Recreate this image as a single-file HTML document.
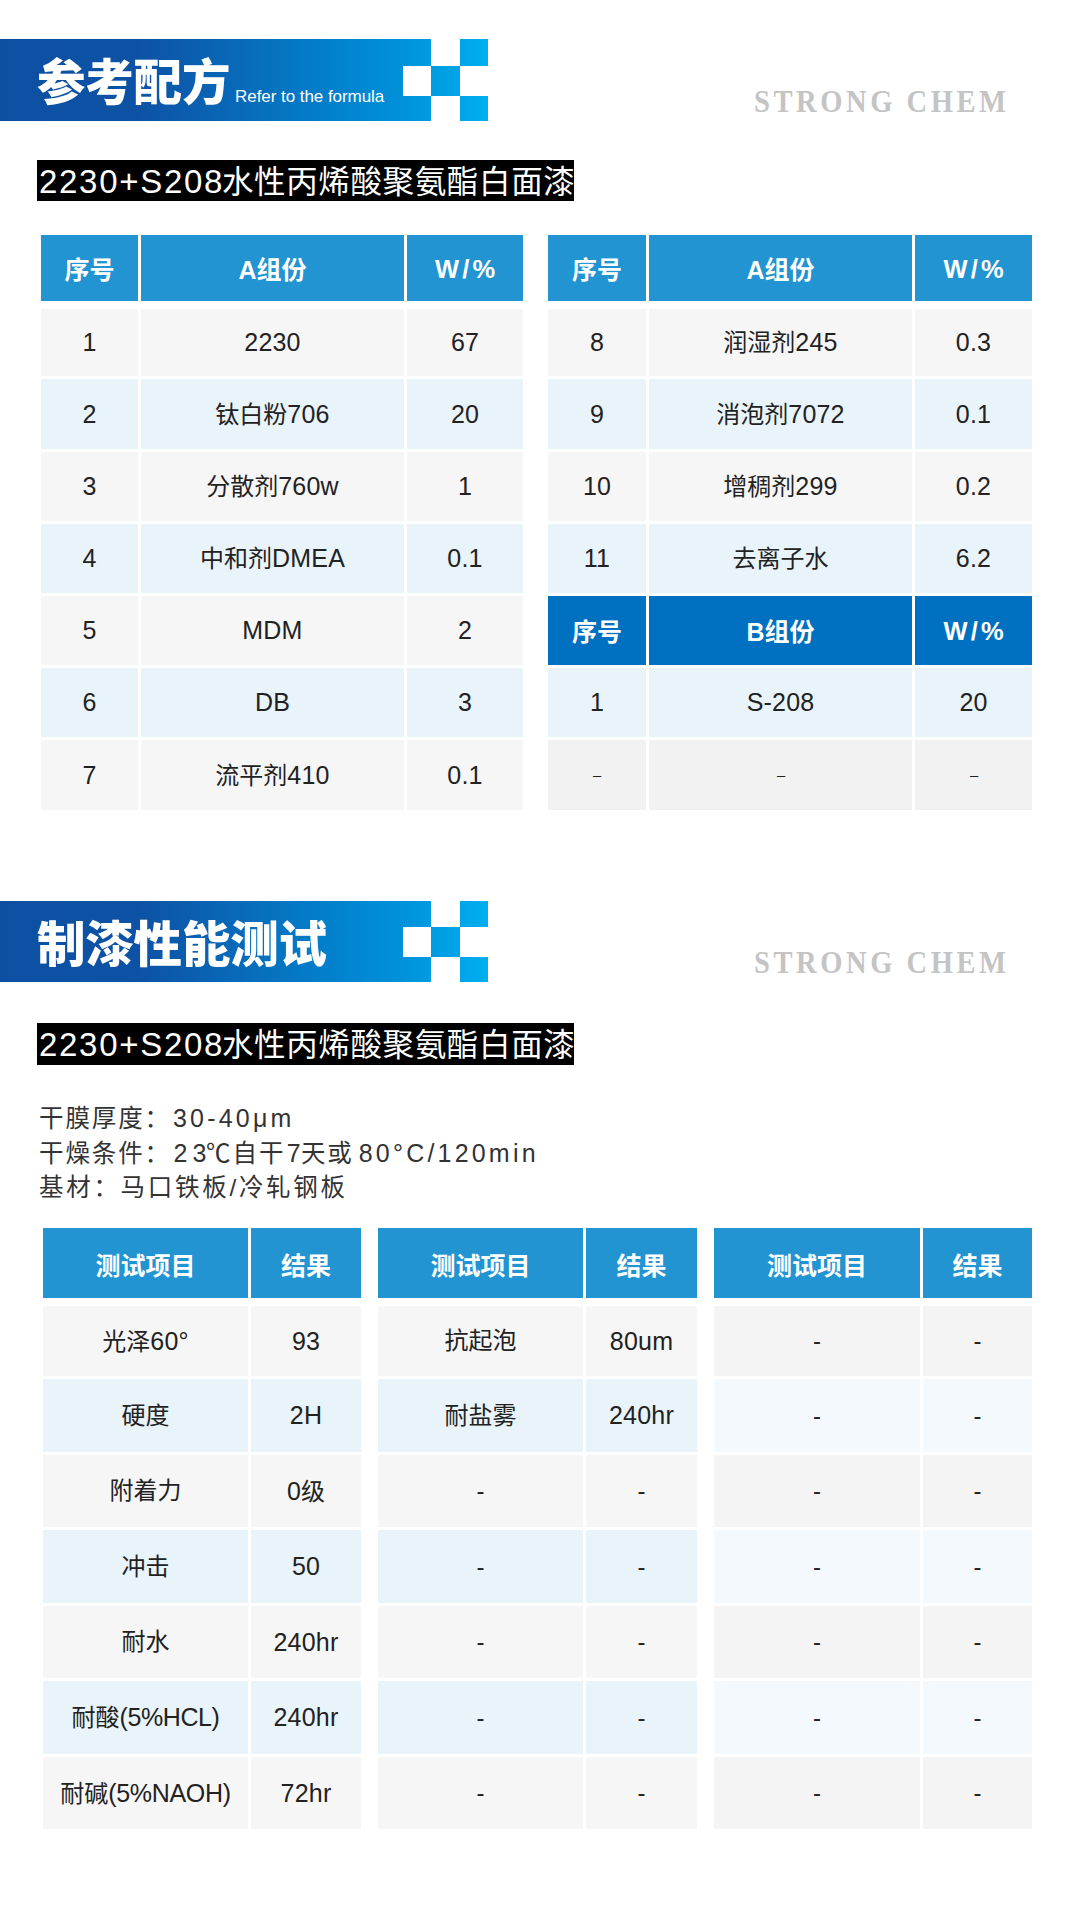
<!DOCTYPE html>
<html lang="zh-CN">
<head>
<meta charset="utf-8">
<title>参考配方</title>
<style>
html,body{margin:0;padding:0;background:#fff}
body{width:1080px;height:1920px;position:relative;overflow:hidden;font-family:"Liberation Sans","Noto Sans CJK SC",sans-serif;color:#222}
.banner{position:absolute;left:0;width:488px;background:linear-gradient(90deg,#0d50a2 0,#0d52a5 140px,#0091da 400px,#00aeef 488px)}
.banner .sq{position:absolute}
.banner .w{background:#fff}
.banner h2{position:absolute;left:37px;top:20px;margin:0;font-weight:900;font-size:48.5px;line-height:1;color:#fff;white-space:nowrap;letter-spacing:-0.2px}
.banner .en{position:absolute;left:235px;color:#fff;font-size:17px;letter-spacing:-0.05px;white-space:nowrap;line-height:1}
.brand{position:absolute;left:754px;font-family:"Liberation Serif",serif;font-weight:bold;font-size:32.5px;letter-spacing:4px;color:#c4c4c4;line-height:1;white-space:nowrap;transform:scaleX(.88);transform-origin:0 0}
.sub{position:absolute;left:37px;width:537px;height:41px;background:#000;color:#fff;font-size:31.5px;line-height:43px;letter-spacing:0.64px;white-space:nowrap;overflow:hidden;box-sizing:border-box;padding-left:2px}
.sub .l{font-size:33px;letter-spacing:1.7px;margin-right:-2.2px}
.info{position:absolute;left:39px;top:1101px;color:#333;white-space:nowrap}
.info p{margin:0;font-size:24.5px;line-height:34.5px;letter-spacing:1.9px;height:34.5px}
.info p.l3{letter-spacing:2.7px;margin-top:1px}
.info .n{font-size:25px;letter-spacing:3.2px}
table.t{position:absolute;border-collapse:separate;border-spacing:3px;table-layout:fixed;font-size:24px;text-align:center}
table.t th,table.t td{padding:0;font-weight:normal;line-height:1;vertical-align:middle;overflow:hidden;white-space:nowrap}
table.t thead th{background:#2194d1;background-clip:padding-box;color:#fff;font-weight:bold;border-bottom:5px solid #fff;font-size:25px;padding-top:5px}
tr.g td{background:#f6f6f6}
tr.b td{background:#e9f3fa}
tr.g2 td{background:#f2f2f2}
tr.h2 th{background:#0070c0;color:#fff;font-weight:bold;font-size:25px;padding-top:3px}
th .w{letter-spacing:3.2px;margin-right:-3.2px;font-size:25.5px;position:relative;top:-0.5px}
table.tc thead th,table.td thead th,table.te thead th{padding-top:7px}
table.te tr.b td{background:#f4f9fd}
table.te tr.g td{background:#f4f4f4}
td .e{font-size:25px;letter-spacing:.2px}
td i{font-style:normal;font-size:16px;display:inline-block;transform:translate(0.5px,-1.5px) scale(2.1,.75)}
</style>
</head>
<body>
<div class="banner" style="top:39px;height:82px">
<div class="sq w" style="left:403px;top:27px;width:28px;height:30px"></div>
<div class="sq w" style="left:431px;top:0;width:28.5px;height:27px"></div>
<div class="sq w" style="left:431px;top:57px;width:28.5px;height:25px"></div>
<div class="sq w" style="left:459.5px;top:27px;width:28.5px;height:30px"></div>
<h2>参考配方</h2><span class="en" style="top:49px">Refer to the formula</span>
</div>
<div class="brand" style="top:85px">STRONG CHEM</div>
<div class="sub" style="top:160px"><span class="l">2230+S208</span>水性丙烯酸聚氨酯白面漆</div>
<table class="t ta" style="left:38px;top:232px">
<colgroup><col style="width:97px"><col style="width:263px"><col style="width:116px"></colgroup>
<thead><tr style="height:71px"><th>序号</th><th>A组份</th><th><span class="w">W/%</span></th></tr></thead>
<tbody>
<tr class="g" style="height:67px"><td><span class="e">1</span></td><td><span class="e">2230</span></td><td><span class="e">67</span></td></tr>
<tr class="b" style="height:70px"><td><span class="e">2</span></td><td>钛白粉<span class="e">706</span></td><td><span class="e">20</span></td></tr>
<tr class="g" style="height:69px"><td><span class="e">3</span></td><td>分散剂<span class="e">760w</span></td><td><span class="e">1</span></td></tr>
<tr class="b" style="height:69px"><td><span class="e">4</span></td><td>中和剂<span class="e">DMEA</span></td><td><span class="e">0.1</span></td></tr>
<tr class="g" style="height:69px"><td><span class="e">5</span></td><td><span class="e">MDM</span></td><td><span class="e">2</span></td></tr>
<tr class="b" style="height:69px"><td><span class="e">6</span></td><td><span class="e">DB</span></td><td><span class="e">3</span></td></tr>
<tr class="g" style="height:70px"><td><span class="e">7</span></td><td>流平剂<span class="e">410</span></td><td><span class="e">0.1</span></td></tr>
</tbody></table>
<table class="t tb" style="left:545px;top:232px">
<colgroup><col style="width:98px"><col style="width:263px"><col style="width:117px"></colgroup>
<thead><tr style="height:71px"><th>序号</th><th>A组份</th><th><span class="w">W/%</span></th></tr></thead>
<tbody>
<tr class="g" style="height:67px"><td><span class="e">8</span></td><td>润湿剂<span class="e">245</span></td><td><span class="e">0.3</span></td></tr>
<tr class="b" style="height:70px"><td><span class="e">9</span></td><td>消泡剂<span class="e">7072</span></td><td><span class="e">0.1</span></td></tr>
<tr class="g" style="height:69px"><td><span class="e">10</span></td><td>增稠剂<span class="e">299</span></td><td><span class="e">0.2</span></td></tr>
<tr class="b" style="height:69px"><td><span class="e">11</span></td><td>去离子水</td><td><span class="e">6.2</span></td></tr>
<tr class="h2" style="height:69px"><th>序号</th><th>B组份</th><th><span class="w">W/%</span></th></tr>
<tr class="b" style="height:69px"><td><span class="e">1</span></td><td><span class="e">S-208</span></td><td><span class="e">20</span></td></tr>
<tr class="g2" style="height:70px"><td><i>-</i></td><td><i>-</i></td><td><i>-</i></td></tr>
</tbody></table>
<div class="banner" style="top:901px;height:81px">
<div class="sq w" style="left:403px;top:26px;width:28px;height:30px"></div>
<div class="sq w" style="left:431px;top:0;width:28.5px;height:26px"></div>
<div class="sq w" style="left:431px;top:56px;width:28.5px;height:25px"></div>
<div class="sq w" style="left:459.5px;top:26px;width:28.5px;height:30px"></div>
<h2>制漆性能测试</h2>
</div>
<div class="brand" style="top:946px">STRONG CHEM</div>
<div class="sub" style="top:1023px;height:42px"><span class="l">2230+S208</span>水性丙烯酸聚氨酯白面漆</div>
<div class="info">
<p class="l1">干膜厚度：<span class="n" style="margin-left:2px">30-40μm</span></p>
<p class="l2">干燥条件：<span class="n" style="letter-spacing:5.2px;margin-left:2.4px;margin-right:-5.5px">23</span>℃自干<span class="n" style="margin-left:1.5px;margin-right:-3px">7</span>天或<span class="n" style="margin-left:5px">80°C/120min</span></p>
<p class="l3">基材：马口铁板/冷轧钢板</p>
</div>
<table class="t tc" style="left:40px;top:1225px">
<colgroup><col style="width:205px"><col style="width:110px"></colgroup>
<thead><tr style="height:75px"><th>测试项目</th><th>结果</th></tr></thead>
<tbody>
<tr class="g" style="height:70px"><td>光泽<span class="e">60°</span></td><td><span class="e">93</span></td></tr>
<tr class="b" style="height:73px"><td>硬度</td><td><span class="e">2H</span></td></tr>
<tr class="g" style="height:72px"><td>附着力</td><td><span class="e">0</span>级</td></tr>
<tr class="b" style="height:73px"><td>冲击</td><td><span class="e">50</span></td></tr>
<tr class="g" style="height:72px"><td>耐水</td><td><span class="e">240hr</span></td></tr>
<tr class="b" style="height:73px"><td>耐酸<span class="e" style="letter-spacing:-.4px">(5%HCL)</span></td><td><span class="e">240hr</span></td></tr>
<tr class="g" style="height:72px"><td>耐碱<span class="e" style="letter-spacing:-.3px">(5%NAOH)</span></td><td><span class="e">72hr</span></td></tr>
</tbody></table>
<table class="t td" style="left:375px;top:1225px">
<colgroup><col style="width:205px"><col style="width:111px"></colgroup>
<thead><tr style="height:75px"><th>测试项目</th><th>结果</th></tr></thead>
<tbody>
<tr class="g" style="height:70px"><td>抗起泡</td><td><span class="e">80um</span></td></tr>
<tr class="b" style="height:73px"><td>耐盐雾</td><td><span class="e">240hr</span></td></tr>
<tr class="g" style="height:72px"><td>-</td><td>-</td></tr>
<tr class="b" style="height:73px"><td>-</td><td>-</td></tr>
<tr class="g" style="height:72px"><td>-</td><td>-</td></tr>
<tr class="b" style="height:73px"><td>-</td><td>-</td></tr>
<tr class="g" style="height:72px"><td>-</td><td>-</td></tr>
</tbody></table>
<table class="t te" style="left:711px;top:1225px">
<colgroup><col style="width:206px"><col style="width:109px"></colgroup>
<thead><tr style="height:75px"><th>测试项目</th><th>结果</th></tr></thead>
<tbody>
<tr class="g" style="height:70px"><td>-</td><td>-</td></tr>
<tr class="b" style="height:73px"><td>-</td><td>-</td></tr>
<tr class="g" style="height:72px"><td>-</td><td>-</td></tr>
<tr class="b" style="height:73px"><td>-</td><td>-</td></tr>
<tr class="g" style="height:72px"><td>-</td><td>-</td></tr>
<tr class="b" style="height:73px"><td>-</td><td>-</td></tr>
<tr class="g" style="height:72px"><td>-</td><td>-</td></tr>
</tbody></table>
</body>
</html>
